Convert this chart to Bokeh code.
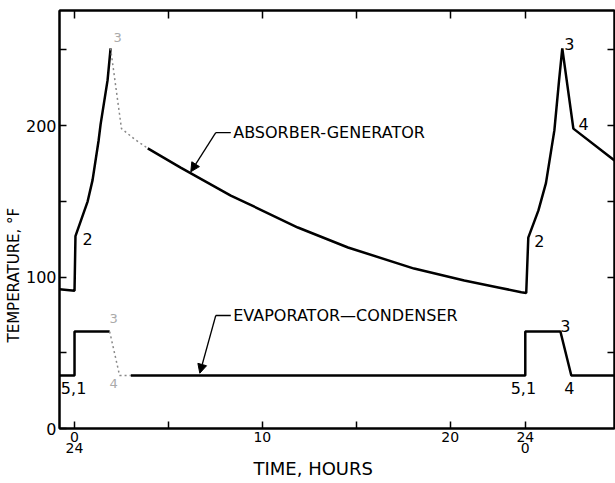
from bokeh.plotting import figure
from bokeh.models import (ColumnDataSource, FixedTicker, LinearAxis, Label,
                          Arrow, NormalHead, Range1d, Title,
                          CustomLabelingPolicy)
from bokeh.core.properties import value
from bokeh.embed import file_html
from bokeh.resources import INLINE

FONT = "DejaVu Sans"

# ---- data (hours, deg F) ----
abs_rise_h = [-0.8, 0.0, 0.05, 0.7, 0.96, 1.28, 1.39, 1.76, 1.92]
abs_rise_t = [92, 91, 127, 150, 164, 190, 201, 230, 251]
abs_faint_h = [1.92, 2.5, 3.2, 3.9]
abs_faint_t = [251, 198, 191, 185]
abs_main_h = [3.9, 5.65, 8.32, 9.23, 11.89, 14.56, 18.08, 20.75, 22.56,
              23.79, 24.05, 24.16, 24.7, 25.1, 25.55, 25.8, 25.97, 26.56, 28.75]
abs_main_t = [185, 172.3, 153.8, 148.5, 132.7, 119.5, 105.6, 97.7, 93.1,
              90, 89.5, 126, 144, 162, 197, 230, 251, 198, 177]

evap_a_h = [-0.8, 0.0, 0.0, 1.87]
evap_a_t = [35, 35, 64, 64]
evap_faint_h = [1.87, 2.4, 3.0]
evap_faint_t = [64, 35, 35]
evap_b_h = [3.0, 24.0, 24.0, 25.87, 26.45, 28.75]
evap_b_t = [35, 35, 64, 64, 35, 35]

x_major = [0, 10, 20, 24]
x_minor = [5, 15]
x_labels = {0: "0", 10: "10", 20: "20", 24: "24"}
x_labels2 = {0: "24", 24: "0"}
y_major = [0, 100, 200]
y_minor = [50, 150, 250]

pt_text = ["2", "2", "3", "4", "5,1", "5,1", "3", "4"]
pt_h = [0.69, 24.75, 26.35, 27.1, -0.05, 23.9, 26.13, 26.35]
pt_t = [124.8, 124.1, 254, 201.3, 27, 27, 68, 27]
faint_text = ["3", "3", "4"]
faint_h = [2.29, 2.08, 2.08]
faint_t = [258, 72.6, 29.7]

p = figure(width=615, height=483, x_range=Range1d(-0.8, 28.75),
           y_range=Range1d(0, 276), output_backend="svg",
           toolbar_location=None)
p.min_border_left = 59
p.min_border_right = 1
p.min_border_top = 10
p.min_border_bottom = 55
p.grid.visible = False
p.outline_line_color = "black"
p.outline_line_width = 2
p.background_fill_color = "white"
p.border_fill_color = "white"

NO_LABELS = CustomLabelingPolicy(code="""
    const ids = Array.from(indices)
    for (const i of ids) indices.unset(i)
    return indices
""")

def style(ax, ticks, minor, tick_in=7):
    ax.ticker = FixedTicker(ticks=ticks, minor_ticks=minor)
    ax.axis_line_width = 2
    ax.axis_line_color = "black"
    ax.major_tick_in = tick_in
    ax.major_tick_out = 0
    ax.minor_tick_in = tick_in
    ax.minor_tick_out = 0
    ax.major_tick_line_width = 1.5
    ax.minor_tick_line_width = 1.5
    ax.major_label_text_font = FONT
    ax.major_label_text_color = "black"

xa = p.xaxis[0]
style(xa, x_major, x_minor)
xa.major_label_overrides = x_labels
xa.major_label_text_font_size = "14px"
xa.major_label_standoff = 3

xa2 = LinearAxis(ticker=FixedTicker(ticks=[0, 24], minor_ticks=[]))
xa2.major_label_overrides = x_labels2
xa2.axis_line_color = None
xa2.major_tick_line_color = None
xa2.minor_tick_line_color = None
xa2.major_label_text_font = FONT
xa2.major_label_text_font_size = "14px"
xa2.major_label_text_color = "black"
xa2.major_label_standoff = -8
p.add_layout(xa2, "below")

ya = p.yaxis[0]
style(ya, y_major, y_minor)
ya.major_label_text_font_size = "16px"
ya.major_label_standoff = 3

top = LinearAxis()
style(top, [0, 5, 10, 15, 20, 24], [], tick_in=8)
top.major_label_policy = NO_LABELS
top.major_label_text_font_size = "0px"
top.major_label_standoff = 0
p.add_layout(top, "above")

right = LinearAxis()
style(right, [50, 100, 150, 200, 250], [], tick_in=7)
right.major_label_policy = NO_LABELS
right.major_label_text_font_size = "0px"
right.major_label_standoff = 0
p.add_layout(right, "right")

# curves
p.line(abs_rise_h, abs_rise_t, line_color="black", line_width=2.5)
p.line(abs_faint_h, abs_faint_t, line_color="#888888", line_width=1.5,
       line_dash="2 3")
p.line(abs_main_h, abs_main_t, line_color="black", line_width=2.5)
p.line(evap_a_h, evap_a_t, line_color="black", line_width=2.5)
p.line(evap_faint_h, evap_faint_t, line_color="#888888", line_width=1.5,
       line_dash="2 3")
p.line(evap_b_h, evap_b_t, line_color="black", line_width=2.5)

# point labels
src = ColumnDataSource(dict(x=pt_h, y=pt_t, t=pt_text))
p.text(x="x", y="y", text="t", source=src, text_font=value(FONT),
       text_font_size="16px", text_align="center", text_baseline="middle",
       text_color="black")
fsrc = ColumnDataSource(dict(x=faint_h, y=faint_t, t=faint_text))
p.text(x="x", y="y", text="t", source=fsrc, text_font=value(FONT),
       text_font_size="13px", text_align="center", text_baseline="middle",
       text_color="#aaaaaa")

# callouts
p.line([7.52, 8.32], [195.4, 195.4], line_color="black", line_width=1.3)
p.add_layout(Arrow(end=NormalHead(size=9, fill_color="black", line_color="black"),
                   x_start=7.52, y_start=195.4, x_end=6.19, y_end=169.5,
                   line_width=1.3, line_color="black"))
p.add_layout(Label(x=8.45, y=195.4, text="ABSORBER-GENERATOR",
                   text_font=FONT, text_font_size="16px", text_color="black",
                   text_baseline="middle", text_align="left"))

p.line([7.52, 8.32], [74.6, 74.6], line_color="black", line_width=1.3)
p.add_layout(Arrow(end=NormalHead(size=9, fill_color="black", line_color="black"),
                   x_start=7.52, y_start=74.6, x_end=6.67, y_end=36.5,
                   line_width=1.3, line_color="black"))
p.add_layout(Label(x=8.45, y=74.6, text="EVAPORATOR\u2014CONDENSER",
                   text_font=FONT, text_font_size="16px", text_color="black",
                   text_baseline="middle", text_align="left"))

# axis titles
p.add_layout(Title(text="TEMPERATURE, \u00b0F", align="left", offset=86,
                   text_font=FONT, text_font_size="15px",
                   text_font_style="normal", text_color="black",
                   standoff=0), "left")
p.add_layout(Title(text="TIME, HOURS", align="left", offset=194,
                   text_font=FONT, text_font_size="18px",
                   text_font_style="normal", text_color="black",
                   standoff=0), "below")

open("out.html", "w").write(file_html(p, INLINE))
